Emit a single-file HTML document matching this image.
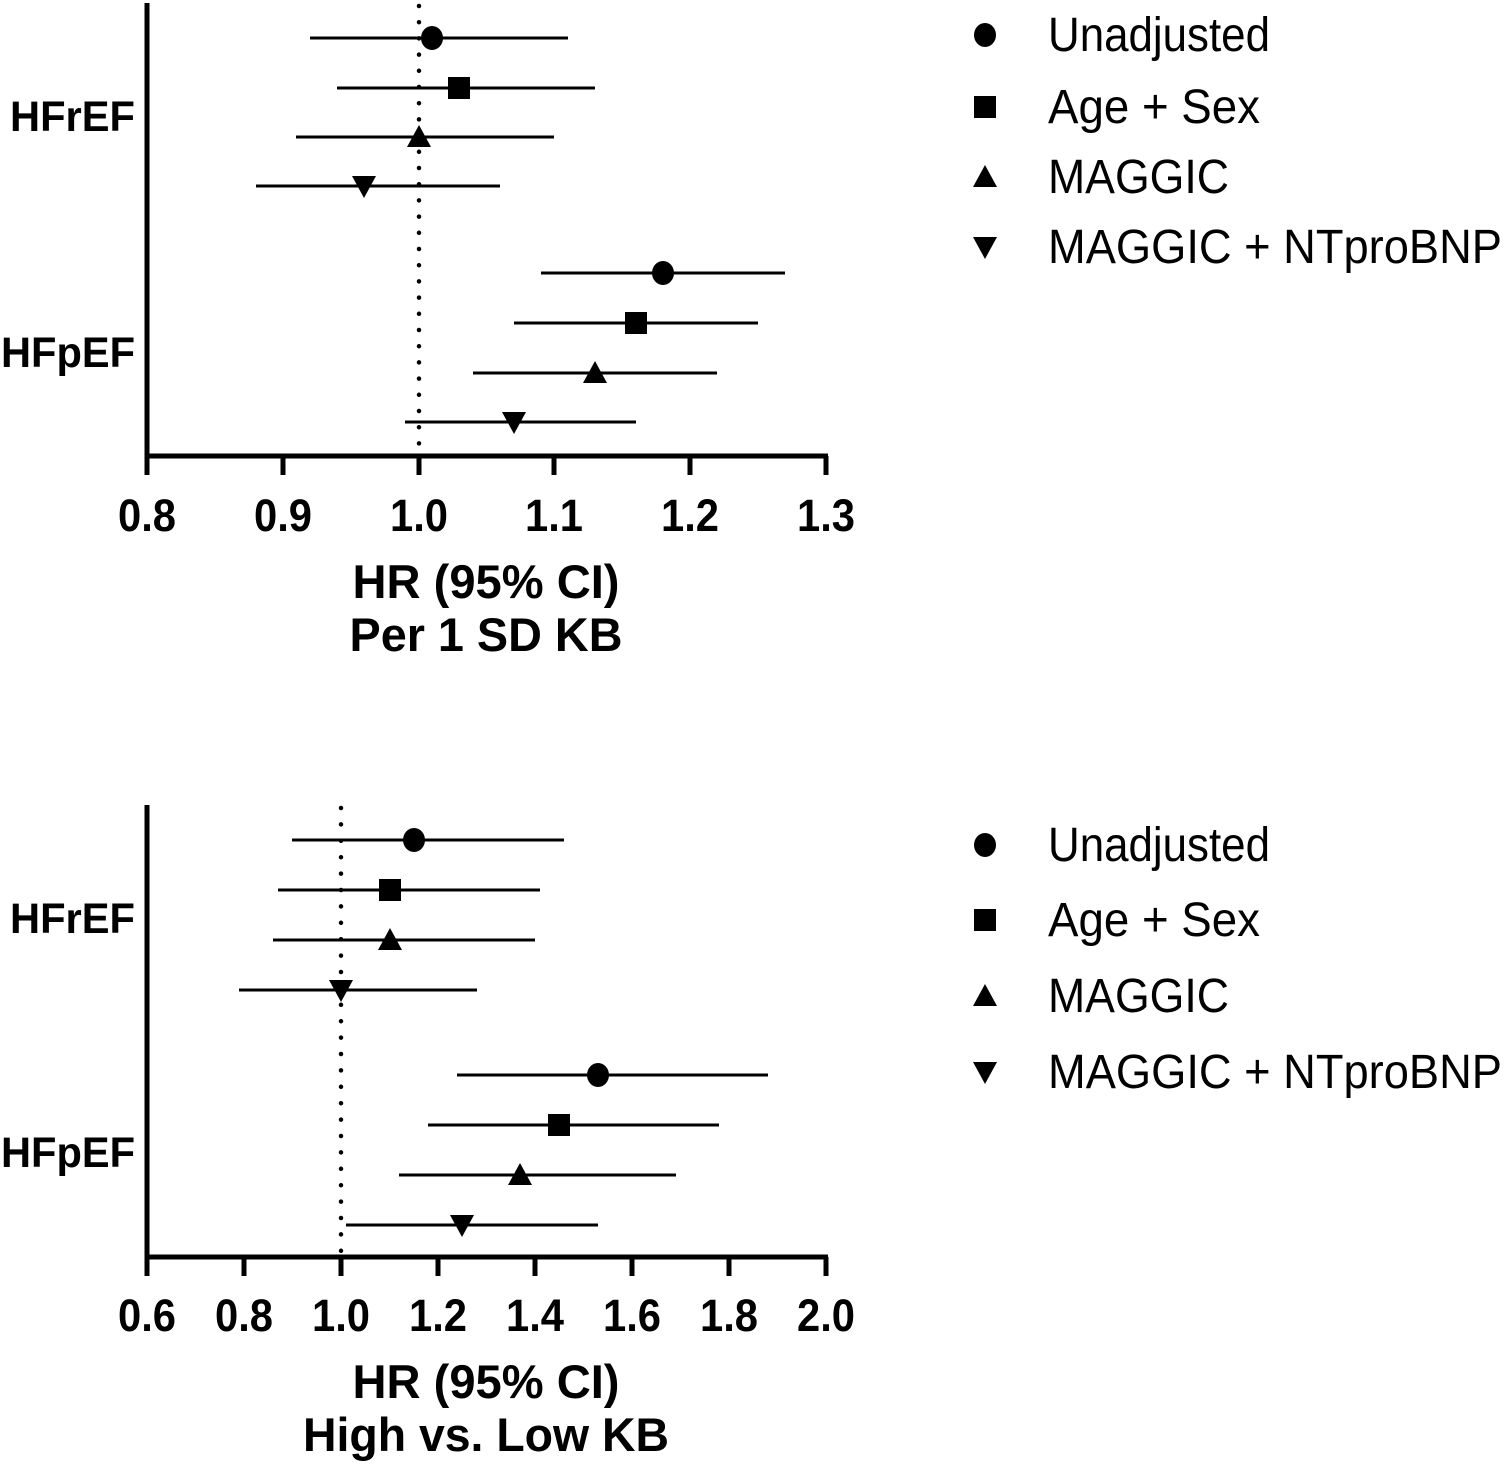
<!DOCTYPE html>
<html><head><meta charset="utf-8"><style>
html,body{margin:0;padding:0;background:#fff;}
svg{display:block;}
text{font-family:"Liberation Sans",Arial,sans-serif;fill:#000;}
.b{font-weight:bold;}
</style></head><body>
<svg width="1505" height="1466" viewBox="0 0 1505 1466" xmlns="http://www.w3.org/2000/svg">
<defs>
<g id="c"><ellipse cx="0" cy="0" rx="11" ry="12" fill="#000"/></g>
<g id="s"><rect x="-11" y="-11" width="22" height="22" fill="#000"/></g>
<g id="t"><polygon points="0,-12 12,10 -12,10" fill="#000"/></g>
<g id="d"><polygon points="-12,-10 12,-10 0,12" fill="#000"/></g>
</defs>

<!-- TOP PANEL -->
<line x1="147" y1="3" x2="147" y2="458" stroke="#000" stroke-width="5"/>
<line x1="145" y1="456" x2="828" y2="456" stroke="#000" stroke-width="5"/>
<g stroke="#000" stroke-width="5">
<line x1="147" y1="456" x2="147" y2="475"/><line x1="283" y1="456" x2="283" y2="475"/>
<line x1="419" y1="456" x2="419" y2="475"/><line x1="554" y1="456" x2="554" y2="475"/>
<line x1="690" y1="456" x2="690" y2="475"/><line x1="826" y1="456" x2="826" y2="475"/>
</g>
<line x1="419" y1="6" x2="419" y2="452" stroke="#000" stroke-width="4.5" stroke-linecap="round" stroke-dasharray="0 16.2"/>
<g stroke="#000" stroke-width="3">
<line x1="310" y1="38" x2="568" y2="38"/>
<line x1="337" y1="88" x2="595" y2="88"/>
<line x1="296" y1="137" x2="554" y2="137"/>
<line x1="256" y1="186" x2="500" y2="186"/>
<line x1="541" y1="273" x2="785" y2="273"/>
<line x1="514" y1="323" x2="758" y2="323"/>
<line x1="473" y1="373" x2="717" y2="373"/>
<line x1="405" y1="422" x2="636" y2="422"/>
</g>
<use href="#c" x="432" y="38"/><use href="#s" x="459" y="88"/>
<use href="#t" x="419" y="137"/><use href="#d" x="364" y="186"/>
<use href="#c" x="663" y="273"/><use href="#s" x="636" y="323"/>
<use href="#t" x="595" y="373"/><use href="#d" x="514" y="422"/>
<g class="b" font-size="45" text-anchor="middle">
<text x="147" y="531" textLength="58" lengthAdjust="spacingAndGlyphs">0.8</text><text x="283" y="531" textLength="58" lengthAdjust="spacingAndGlyphs">0.9</text><text x="419" y="531" textLength="58" lengthAdjust="spacingAndGlyphs">1.0</text>
<text x="554" y="531" textLength="58" lengthAdjust="spacingAndGlyphs">1.1</text><text x="690" y="531" textLength="58" lengthAdjust="spacingAndGlyphs">1.2</text><text x="826" y="531" textLength="58" lengthAdjust="spacingAndGlyphs">1.3</text>
</g>
<text class="b" x="486" y="598" font-size="47" text-anchor="middle" textLength="267" lengthAdjust="spacingAndGlyphs">HR (95% CI)</text>
<text class="b" x="486" y="651" font-size="47" text-anchor="middle" textLength="273" lengthAdjust="spacingAndGlyphs">Per 1 SD KB</text>
<text class="b" x="135" y="131" font-size="43" text-anchor="end" textLength="125" lengthAdjust="spacingAndGlyphs">HFrEF</text>
<text class="b" x="135" y="367" font-size="43" text-anchor="end" textLength="134" lengthAdjust="spacingAndGlyphs">HFpEF</text>
<use href="#c" x="985" y="35"/><use href="#s" x="985" y="107"/>
<use href="#t" x="985" y="177"/><use href="#d" x="985" y="247"/>
<g font-size="48">
<text x="1048" y="51" textLength="222" lengthAdjust="spacingAndGlyphs">Unadjusted</text><text x="1048" y="123" textLength="212" lengthAdjust="spacingAndGlyphs">Age + Sex</text>
<text x="1048" y="193" textLength="181" lengthAdjust="spacingAndGlyphs">MAGGIC</text><text x="1048" y="263" textLength="454" lengthAdjust="spacingAndGlyphs">MAGGIC + NTproBNP</text>
</g>

<!-- BOTTOM PANEL -->
<line x1="147" y1="805" x2="147" y2="1259" stroke="#000" stroke-width="5"/>
<line x1="145" y1="1257" x2="828" y2="1257" stroke="#000" stroke-width="5"/>
<g stroke="#000" stroke-width="5">
<line x1="147" y1="1257" x2="147" y2="1276"/><line x1="244" y1="1257" x2="244" y2="1276"/>
<line x1="341" y1="1257" x2="341" y2="1276"/><line x1="438" y1="1257" x2="438" y2="1276"/>
<line x1="535" y1="1257" x2="535" y2="1276"/><line x1="632" y1="1257" x2="632" y2="1276"/>
<line x1="729" y1="1257" x2="729" y2="1276"/><line x1="826" y1="1257" x2="826" y2="1276"/>
</g>
<line x1="341" y1="808" x2="341" y2="1252" stroke="#000" stroke-width="4.5" stroke-linecap="round" stroke-dasharray="0 16.4"/>
<g stroke="#000" stroke-width="3">
<line x1="292" y1="840" x2="564" y2="840"/>
<line x1="278" y1="890" x2="540" y2="890"/>
<line x1="273" y1="940" x2="535" y2="940"/>
<line x1="239" y1="990" x2="477" y2="990"/>
<line x1="457" y1="1075" x2="768" y2="1075"/>
<line x1="428" y1="1125" x2="719" y2="1125"/>
<line x1="399" y1="1175" x2="676" y2="1175"/>
<line x1="346" y1="1225" x2="598" y2="1225"/>
</g>
<use href="#c" x="414" y="840"/><use href="#s" x="390" y="890"/>
<use href="#t" x="390" y="940"/><use href="#d" x="341" y="990"/>
<use href="#c" x="598" y="1075"/><use href="#s" x="559" y="1125"/>
<use href="#t" x="520" y="1175"/><use href="#d" x="462" y="1225"/>
<g class="b" font-size="45" text-anchor="middle">
<text x="147" y="1331" textLength="58" lengthAdjust="spacingAndGlyphs">0.6</text><text x="244" y="1331" textLength="58" lengthAdjust="spacingAndGlyphs">0.8</text><text x="341" y="1331" textLength="58" lengthAdjust="spacingAndGlyphs">1.0</text>
<text x="438" y="1331" textLength="58" lengthAdjust="spacingAndGlyphs">1.2</text><text x="535" y="1331" textLength="58" lengthAdjust="spacingAndGlyphs">1.4</text><text x="632" y="1331" textLength="58" lengthAdjust="spacingAndGlyphs">1.6</text>
<text x="729" y="1331" textLength="58" lengthAdjust="spacingAndGlyphs">1.8</text><text x="826" y="1331" textLength="58" lengthAdjust="spacingAndGlyphs">2.0</text>
</g>
<text class="b" x="486" y="1398" font-size="47" text-anchor="middle" textLength="267" lengthAdjust="spacingAndGlyphs">HR (95% CI)</text>
<text class="b" x="486" y="1451" font-size="47" text-anchor="middle" textLength="366" lengthAdjust="spacingAndGlyphs">High vs. Low KB</text>
<text class="b" x="135" y="933" font-size="43" text-anchor="end" textLength="125" lengthAdjust="spacingAndGlyphs">HFrEF</text>
<text class="b" x="135" y="1167" font-size="43" text-anchor="end" textLength="134" lengthAdjust="spacingAndGlyphs">HFpEF</text>
<use href="#c" x="985" y="845"/><use href="#s" x="985" y="920"/>
<use href="#t" x="985" y="996"/><use href="#d" x="985" y="1072"/>
<g font-size="48">
<text x="1048" y="861" textLength="222" lengthAdjust="spacingAndGlyphs">Unadjusted</text><text x="1048" y="936" textLength="212" lengthAdjust="spacingAndGlyphs">Age + Sex</text>
<text x="1048" y="1012" textLength="181" lengthAdjust="spacingAndGlyphs">MAGGIC</text><text x="1048" y="1088" textLength="454" lengthAdjust="spacingAndGlyphs">MAGGIC + NTproBNP</text>
</g>
</svg>
</body></html>
